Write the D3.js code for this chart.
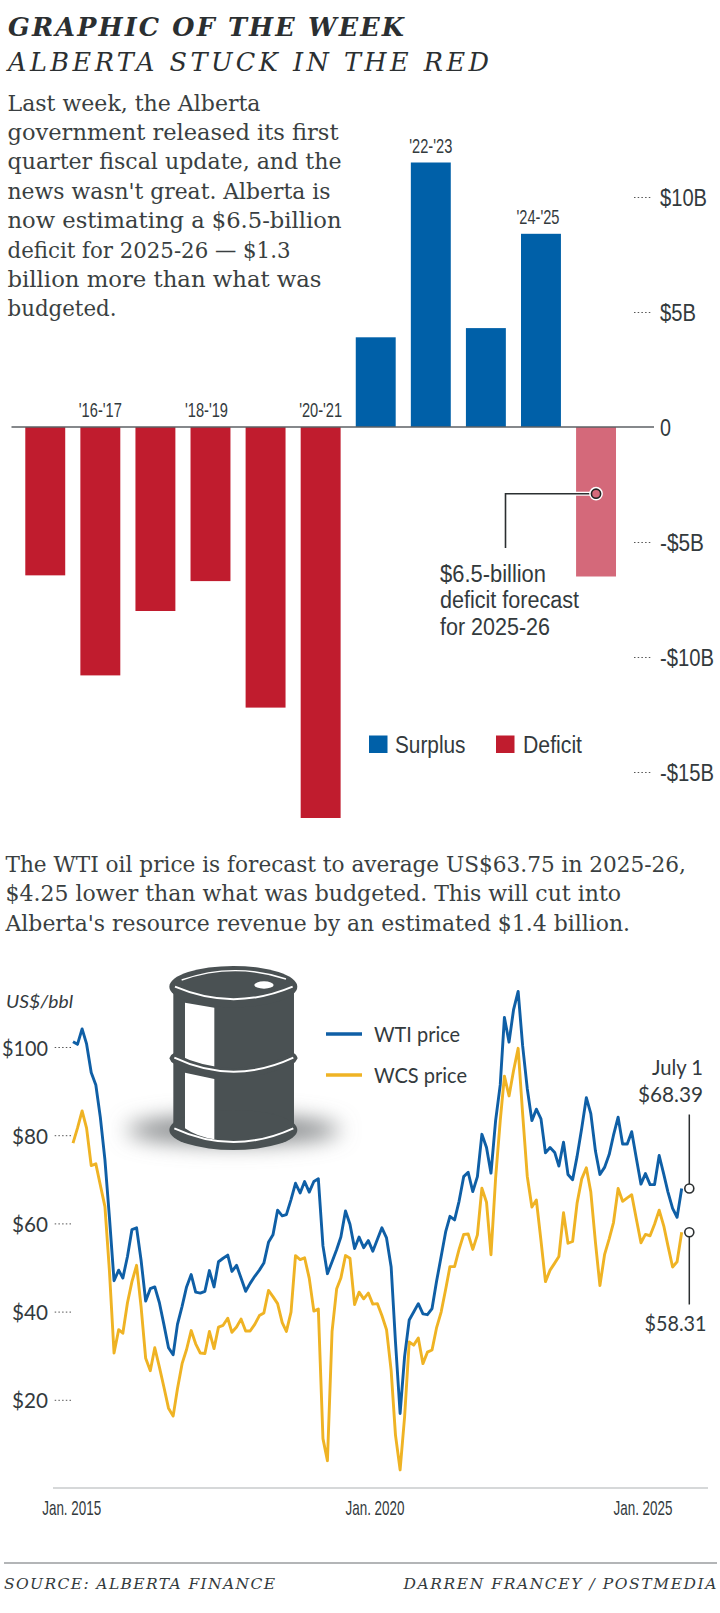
<!DOCTYPE html>
<html>
<head>
<meta charset="utf-8">
<script src="https://cdn.jsdelivr.net/npm/d3@7"></script>
<style>
  html, body { margin: 0; background: #fff; }
  svg { display: block; }
  .slab { font-family: "DejaVu Serif Condensed", "DejaVu Serif", serif; }
  .head { font-family: "DejaVu Serif", serif; }
  .narrow { font-family: "Liberation Sans Narrow", "Liberation Sans", sans-serif; }
  .sans { font-family: Lato, "Open Sans", sans-serif; }
</style>
</head>
<body>
<svg id="chart" width="720" height="1613"></svg>
<script>
const fiscalYears = ["15-16", "16-17", "17-18", "18-19", "19-20", "20-21", "21-22", "22-23", "23-24", "24-25", "25-26"]
const balances = [-6.45, -10.8, -8, -6.7, -12.2, -17, 3.9, 11.5, 4.3, 8.4, -6.5]
const labelledYears = ["16-17", "18-19", "20-21", "22-23", "24-25"]
const balanceTicks = [10, 5, 0, -5, -10, -15]

const priceTicks = [100, 80, 60, 40, 20]
const wti = [
  101.2, 100.6, 104.1, 100.7, 94.2, 91.4, 84.1, 74.4, 61.4, 47, 49.4, 47.6, 52.5, 58.6, 59, 51.7,
  42.4, 45.2, 45.6, 42, 37.1, 31.8, 30.2, 37.1, 41.2, 45.6, 48.4, 44.4, 44.2, 44.6, 49.3, 45.6,
  51.3, 52.1, 52.8, 49.1, 50.5, 47.6, 44.6, 46.4, 48, 49.4, 51, 55.7, 57.4, 63, 61.7, 62,
  65.4, 69.1, 66.9, 69.5, 67.1, 69.5, 70.1, 54.9, 48.6, 51.3, 54.1, 56.9, 62.8, 59.8, 54.3, 56.9,
  54.5, 56.1, 53.7, 56.4, 59, 56.7, 50.1, 33.1, 16.9, 29.8, 38.1, 39.9, 41.8, 39.5, 39.3, 40.7,
  46.8, 52.5, 58.2, 61.6, 60.8, 65, 70.6, 71.6, 67.2, 70.6, 80.2, 77.2, 71.4, 83.3, 91.4, 106.7,
  101.1, 108.4, 112.6, 100.3, 90.6, 83.3, 85.9, 83.7, 76, 77.2, 76.1, 73, 78.4, 71.1, 69.9, 75.2,
  81.6, 88.5, 84.9, 76.4, 71.1, 72.7, 75.6, 80, 84.1, 78, 78, 80.8, 74.8, 68.9, 71.3, 68.8,
  68.8, 75.4, 71.1, 67.1, 63.4, 61.4, 67.9
]
const wcs = [
  78.2, 81.6, 85.5, 81.6, 73.1, 73.5, 68.7, 63.8, 49.3, 30.6, 35.9, 35.1, 42, 46.8, 50.5, 41.2,
  29.4, 26.6, 31.8, 27.4, 22.9, 18.1, 16.3, 22.5, 28.2, 31.4, 35.7, 32.7, 30.6, 30.5, 35.5, 31.6,
  36.5, 36.9, 38.5, 35.3, 36.5, 38.3, 35.6, 35.6, 37.1, 39.1, 39.7, 44.8, 43.4, 41.8, 37.5, 35.5,
  39.9, 52.7, 51.8, 52.2, 47.6, 40.1, 40.6, 11.2, 6.2, 35.5, 45.2, 47.6, 52.7, 52.1, 41.6, 44.4,
  42.9, 44.2, 41.7, 41.8, 39.1, 35.9, 26.6, 12, 4.1, 16.1, 33.1, 32.4, 34, 28.2, 30.8, 31.3,
  36.3, 39.9, 45.2, 50.2, 50.2, 54.1, 57.5, 57.6, 54.1, 57.4, 68, 64.8, 52.9, 70.3, 83.3, 93.4,
  88.9, 94.6, 99.7, 84.9, 70.7, 63.7, 65.3, 56.1, 46.8, 49.4, 51, 52.5, 62.4, 55.5, 55.9, 64.6,
  70.1, 72.6, 67.1, 55.7, 45.9, 52.9, 56.5, 60.2, 67.9, 65, 65.8, 66.5, 61, 55.6, 57.5, 57.2,
  59.8, 63, 59.4, 54.9, 50.1, 51.3, 58
]
const months = wti.map((d, i) => new Date(Date.UTC(2014, 3 + i, 1)))
const dateTicks = [new Date(Date.UTC(2015, 0, 1)), new Date(Date.UTC(2020, 0, 1)), new Date(Date.UTC(2025, 0, 1))]

const introLines = [
  "Last week, the Alberta",
  "government released its first",
  "quarter fiscal update, and the",
  "news wasn't great. Alberta is",
  "now estimating a $6.5-billion",
  "deficit for 2025-26 \u2014 $1.3",
  "billion more than what was",
  "budgeted."
]
const oilLines = [
  "The WTI oil price is forecast to average US$63.75 in 2025-26,",
  "$4.25 lower than what was budgeted. This will cut into",
  "Alberta's resource revenue by an estimated $1.4 billion."
]
const forecastLines = ["$6.5-billion", "deficit forecast", "for 2025-26"]

const blue = "#0060a8"
const red = "#c01c2e"
const pink = "#d4697a"
const ink = "#333a3d"
const wtiBlue = "#0f5fa6"
const wcsYellow = "#efb324"

const svg = d3.select("#chart")
svg.append("rect").attr("width", 720).attr("height", 1613).attr("fill", "#fff")

const defs = svg.append("defs")
defs.append("filter").attr("id", "soft")
  .attr("x", "-40%").attr("y", "-150%").attr("width", "180%").attr("height", "400%")
  .append("feGaussianBlur").attr("stdDeviation", 32)

// squeezes each string into the width it has in the print layout
function put(g, cls, str, x, y, size, width, opts = {}) {
  const t = g.append("text")
    .attr("class", cls)
    .attr("x", x)
    .attr("y", y)
    .attr("font-size", size)
    .attr("fill", opts.fill || ink)
    .attr("text-anchor", opts.anchor || "start")
    .attr("font-style", opts.italic ? "italic" : null)
    .attr("font-weight", opts.weight || null)
    .text(str)
  if (width) {
    t.attr("textLength", width).attr("lengthAdjust", opts.adjust || "spacingAndGlyphs")
  }
  return t
}

// heading
put(svg, "head", "GRAPHIC OF THE WEEK", 8, 35.5, 25.5, 396, {italic: true, weight: 700, fill: "#2b2f31", adjust: "spacing"})
put(svg, "head", "ALBERTA STUCK IN THE RED", 8, 71, 25.5, 481, {italic: true, fill: "#2b2f31", adjust: "spacing"})

const introWidths = [253, 331, 334, 323, 334, 283, 314, 109]
introLines.forEach((line, i) => {
  put(svg, "slab", line, 7.5, 110.5 + i * 29.4, 23, introWidths[i], {fill: "#3a3f41"})
})

// balance bars
const x = d3.scaleBand()
  .domain(fiscalYears)
  .range([17.8, 623.5])
  .paddingInner(0.275)
  .paddingOuter(0.136)
const y = d3.scaleLinear().domain([0, 10]).range([427, 197])

svg.append("g")
  .selectAll("rect")
  .data(fiscalYears)
  .join("rect")
  .attr("x", d => x(d))
  .attr("width", x.bandwidth())
  .attr("y", (d, i) => Math.min(y(0), y(balances[i])))
  .attr("height", (d, i) => Math.abs(y(balances[i]) - y(0)))
  .attr("fill", (d, i) => (d === "25-26" ? pink : balances[i] > 0 ? blue : red))

svg.append("line")
  .attr("x1", 11.5).attr("x2", 654)
  .attr("y1", y(0)).attr("y2", y(0))
  .attr("stroke", "#5c6164").attr("stroke-width", 1.5)

const balanceAxis = svg.append("g")
  .attr("transform", "translate(634,0)")
  .call(d3.axisRight(y)
    .tickValues(balanceTicks)
    .tickSize(18)
    .tickPadding(8)
    .tickFormat(d => (d === 0 ? "0" : (d < 0 ? "-$" : "$") + Math.abs(d) + "B")))
balanceAxis.select(".domain").remove()
balanceAxis.selectAll("line")
  .attr("stroke", d => (d === 0 ? "none" : "#555"))
  .attr("stroke-dasharray", "1.5 2.2")
balanceAxis.selectAll("text")
  .attr("class", "narrow")
  .attr("font-size", 23)
  .attr("fill", ink)
  .attr("dy", 8.5)
  .attr("textLength", d => (d === 0 ? 11 : d === 5 ? 36 : d === 10 ? 47 : d === -5 ? 44 : 54))
  .attr("lengthAdjust", "spacingAndGlyphs")

const yearLabelGap = 10
labelledYears.forEach(d => {
  const v = balances[fiscalYears.indexOf(d)]
  const top = v > 0 ? y(v) : y(0)
  const [a, b] = d.split("-")
  const shift = d === "18-19" ? -4 : d === "24-25" ? -3 : 0
  put(svg, "narrow", `'${a}-'${b}`, x(d) + x.bandwidth() / 2 + shift, top - yearLabelGap, 21, 43, {anchor: "middle"})
})

// forecast callout
const forecastX = x("25-26") + x.bandwidth() / 2
const forecastY = y(-2.9)
const elbow = d3.path()
elbow.moveTo(forecastX, forecastY)
elbow.lineTo(505.5, forecastY)
elbow.lineTo(505.5, 548)
svg.append("path").attr("d", `M${forecastX},${forecastY}H${x("25-26") - 2}`)
  .attr("stroke", "#fff").attr("stroke-width", 4).attr("fill", "none")
svg.append("path").attr("d", elbow.toString())
  .attr("stroke", "#2b2f31").attr("stroke-width", 1.6).attr("fill", "none")
svg.append("circle")
  .attr("cx", forecastX).attr("cy", forecastY).attr("r", 4.6)
  .attr("fill", pink).attr("stroke", "#fff").attr("stroke-width", 4.5)
svg.append("circle")
  .attr("cx", forecastX).attr("cy", forecastY).attr("r", 4.6)
  .attr("fill", pink).attr("stroke", "#222").attr("stroke-width", 1.6)

const forecastWidths = [106, 139, 110]
forecastLines.forEach((line, i) => {
  put(svg, "narrow", line, 440, 582 + i * 26.3, 23, forecastWidths[i])
})

// bar legend
svg.append("rect").attr("x", 369).attr("y", 735.5).attr("width", 18.5).attr("height", 17.5).attr("fill", blue)
put(svg, "narrow", "Surplus", 395, 752.5, 23, 70.5)
svg.append("rect").attr("x", 496).attr("y", 735.5).attr("width", 18.5).attr("height", 17.5).attr("fill", red)
put(svg, "narrow", "Deficit", 523, 752.5, 23, 59)

const oilWidths = [680.5, 615.5, 624.5]
oilLines.forEach((line, i) => {
  put(svg, "slab", line, 5.5, 871.5 + i * 29.6, 22.5, oilWidths[i], {fill: "#3a3f41"})
})

// oil prices
const xTime = d3.scaleUtc().domain([months[0], months[months.length - 1]]).range([73, 681.7])
const yPrice = d3.scaleLinear().domain([0, 100]).range([1488, 1047])

const barrel = svg.append("g").attr("transform", "translate(130,955) scale(0.3333)")
barrel.append("ellipse")
  .attr("cx", 310).attr("cy", 525).attr("rx", 320).attr("ry", 42)
  .attr("fill", "#85888a").attr("filter", "url(#soft)")
const steel = "#4a5153"
barrel.append("rect").attr("x", 130).attr("y", 95).attr("width", 362).attr("height", 430).attr("fill", steel)
barrel.append("ellipse").attr("cx", 310).attr("cy", 95).attr("rx", 192).attr("ry", 62).attr("fill", steel)
barrel.append("ellipse").attr("cx", 310).attr("cy", 525).attr("rx", 192).attr("ry", 60).attr("fill", steel)
barrel.append("path")
  .attr("d", "M165,143L253,158V340Q200,332 165,312Z M165,353L253,372V553Q200,545 165,520Z")
  .attr("fill", "#fff")
barrel.append("path")
  .attr("d", "M118,310Q122,298 132,294Q310,385 490,294Q500,298 503,310Q497,322 490,326Q310,410 132,326Q122,322 118,310Z")
  .attr("fill", steel)
const whiteCurves = [
  "M135,95Q310,170 488,95",
  "M133,308Q310,392 490,308",
  "M133,520Q310,602 490,520",
  "M155,75Q310,20 468,72"
]
barrel.selectAll("path.hoop")
  .data(whiteCurves)
  .join("path")
  .attr("class", "hoop")
  .attr("d", d => d)
  .attr("fill", "none")
  .attr("stroke", "#fff")
  .attr("stroke-width", (d, i) => (i === 3 ? 4 : 6))
barrel.append("ellipse").attr("cx", 402).attr("cy", 90).attr("rx", 29).attr("ry", 11).attr("fill", "#fff")

put(svg, "sans", "US$/bbl", 6, 1007.5, 17.5, 67, {italic: true})

const priceAxis = svg.append("g")
  .attr("transform", "translate(71,0)")
  .call(d3.axisLeft(yPrice)
    .tickValues(priceTicks)
    .tickSize(17)
    .tickPadding(6)
    .tickFormat(d => "$" + d))
priceAxis.select(".domain").remove()
priceAxis.selectAll("line")
  .attr("stroke", "#555")
  .attr("stroke-dasharray", "1.5 2.2")
priceAxis.selectAll("text")
  .attr("class", "sans")
  .attr("font-size", 22)
  .attr("fill", ink)
  .attr("dy", 8)
  .attr("textLength", d => (d === 100 ? 46 : 36))
  .attr("lengthAdjust", "spacingAndGlyphs")

const timeAxis = svg.append("g")
  .attr("transform", "translate(0,1488)")
  .call(d3.axisBottom(xTime)
    .tickValues(dateTicks)
    .tickSize(0)
    .tickFormat(d => "Jan. " + d.getUTCFullYear()))
timeAxis.select(".domain")
  .attr("d", "M53,0H708")
  .attr("stroke", "#c9cbcc")
  .attr("stroke-width", 1.5)
timeAxis.selectAll("g.tick")
  .attr("transform", d => `translate(${{2015: 71.7, 2020: 375, 2025: 643}[d.getUTCFullYear()]},0)`)
timeAxis.selectAll("text")
  .attr("class", "narrow")
  .attr("font-size", 21)
  .attr("fill", ink)
  .attr("y", 27)
  .attr("dy", 0)
  .attr("textLength", 59)
  .attr("lengthAdjust", "spacingAndGlyphs")

const priceLine = d3.line()
  .x((d, i) => xTime(months[i]))
  .y(d => yPrice(d))
  .curve(d3.curveLinear)

svg.append("path").attr("d", priceLine(wcs))
  .attr("fill", "none").attr("stroke", wcsYellow).attr("stroke-width", 2.9).attr("stroke-linejoin", "round")
svg.append("path").attr("d", priceLine(wti))
  .attr("fill", "none").attr("stroke", wtiBlue).attr("stroke-width", 2.9).attr("stroke-linejoin", "round")

// line legend
svg.append("line").attr("x1", 326).attr("x2", 362).attr("y1", 1034).attr("y2", 1034)
  .attr("stroke", wtiBlue).attr("stroke-width", 3.4)
svg.append("line").attr("x1", 326).attr("x2", 362).attr("y1", 1075).attr("y2", 1075)
  .attr("stroke", wcsYellow).attr("stroke-width", 3.4)
put(svg, "sans", "WTI price", 374, 1042, 21, 86)
put(svg, "sans", "WCS price", 374, 1083, 21, 93)

// end-of-line callouts
const endX = 689.3
const wtiEnd = yPrice(wti[wti.length - 1])
const wcsEnd = yPrice(wcs[wcs.length - 1])
svg.append("line").attr("x1", endX).attr("x2", endX).attr("y1", 1114.5).attr("y2", wtiEnd)
  .attr("stroke", "#2b2f31").attr("stroke-width", 1.5)
svg.append("line").attr("x1", endX).attr("x2", endX).attr("y1", wcsEnd).attr("y2", 1304.5)
  .attr("stroke", "#2b2f31").attr("stroke-width", 1.5)
svg.selectAll("circle.end")
  .data([wtiEnd, wcsEnd])
  .join("circle")
  .attr("class", "end")
  .attr("cx", endX).attr("cy", d => d).attr("r", 4.5)
  .attr("fill", "#fff").attr("stroke", "#2b2f31").attr("stroke-width", 1.6)
put(svg, "sans", "July 1", 703, 1075, 22, 51, {anchor: "end"})
put(svg, "sans", "$68.39", 703, 1102, 22, 65, {anchor: "end"})
put(svg, "sans", "$58.31", 706.5, 1331, 22, 62, {anchor: "end"})

// footer
svg.append("line").attr("x1", 4).attr("x2", 717).attr("y1", 1563).attr("y2", 1563)
  .attr("stroke", "#9a9d9f").attr("stroke-width", 1.6)
put(svg, "head", "SOURCE: ALBERTA FINANCE", 4, 1589, 15.5, 271, {italic: true, adjust: "spacing"})
put(svg, "head", "DARREN FRANCEY / POSTMEDIA", 403.5, 1589, 15.5, 313, {italic: true, adjust: "spacing"})
</script>
</body>
</html>
